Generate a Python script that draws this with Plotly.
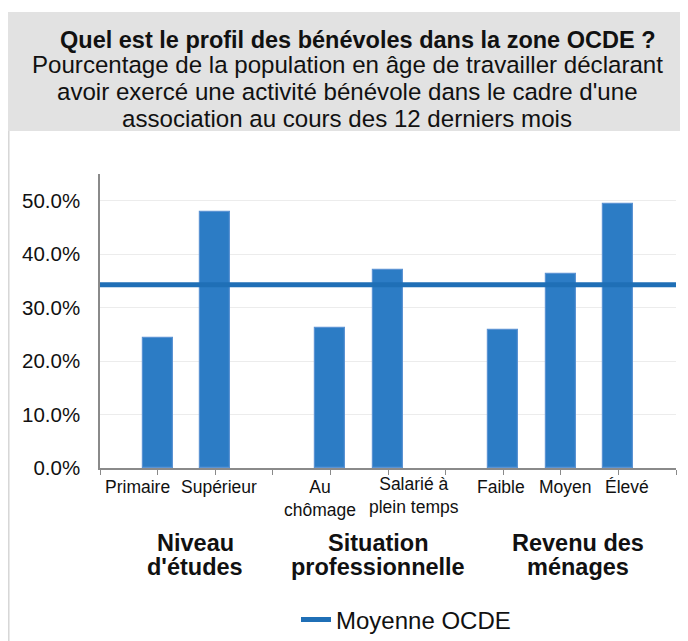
import plotly.graph_objects as go

# data
groups = ["Niveau<br>d'études", "Situation<br>professionnelle", "Revenu des<br>ménages"]
group_items = [
    ["Primaire", "Supérieur"],
    ["Au<br>chômage", "Salarié à<br>plein temps"],
    ["Faible", "Moyen", "Élevé"],
]
group_values = [
    [24.4, 47.9],
    [26.1, 37.0],
    [25.8, 36.2, 49.4],
]
oecd_average = 34.3

title = "Quel est le profil des bénévoles dans la zone OCDE ?"
subtitle_lines = [
    "Pourcentage de la population en âge de travailler déclarant",
    "avoir exercé une activité bénévole dans le cadre d'une",
    "association au cours des 12 derniers mois",
]

# the page body adds an 8px margin, so the figure is drawn 8px in from the window corner
OFF = 8
W, H = 688 - OFF, 641 - OFF
# plot area in window pixels: x 100..676, y 174..468
L, R, T, B = 100 - OFF, 688 - 676, 174 - OFF, 641 - 468
FONT = "Liberation Sans, Arial, Helvetica, sans-serif"

# category slots: one empty slot before each group
x_pos, labels, values, group_centres = [], [], [], []
slot = 0
for items, vals in zip(group_items, group_values):
    slot += 1
    start = slot
    for lab, v in zip(items, vals):
        x_pos.append(slot)
        labels.append(lab)
        values.append(v)
        slot += 1
    group_centres.append((start + slot - 1) / 2)
n_slots = slot + 1


def px_x(p):
    # window pixel -> paper x
    return (p - OFF - L) / (W - L - R)


def px_y(p):
    # window pixel -> paper y
    return (H - B - (p - OFF)) / (H - T - B)


fig = go.Figure()
fig.add_trace(go.Bar(
    x=x_pos, y=values, width=0.52, showlegend=False,
    marker=dict(color="#2c7cc5", line=dict(color="#5b93d3", width=1.2)),
    hoverinfo="skip",
))
fig.add_trace(go.Scatter(
    x=[0, n_slots - 1], y=[oecd_average] * 2, mode="lines",
    name="Moyenne OCDE", line=dict(color="#1f6fb6", width=5),
))

fig.update_layout(
    width=W, height=H,
    margin=dict(l=L, r=R, t=T, b=B, autoexpand=False),
    paper_bgcolor="white", plot_bgcolor="white",
    font=dict(family=FONT, color="#111", size=17),
    bargap=0,
    showlegend=True,
    legend=dict(
        orientation="h", x=px_x(296), y=px_y(620), xanchor="left",
        yanchor="middle", font=dict(size=24), itemwidth=30,
    ),
    xaxis=dict(
        range=[0, n_slots - 1],
        tickmode="array",
        tickvals=list(range(n_slots)),
        showticklabels=False,
        ticks="outside", ticklen=5, tickcolor="#8a8a8a", tickwidth=1.2,
        showline=True, linecolor="#8a8a8a", linewidth=1.5,
        showgrid=False, zeroline=False,
    ),
    yaxis=dict(
        range=[0, 55], dtick=10, tickformat=".1f", ticksuffix="%",
        showline=True, linecolor="#8a8a8a", linewidth=1.5,
        gridcolor="#ececec", gridwidth=1, zeroline=False,
        tickfont=dict(size=20.5), ticklabelstandoff=14,
    ),
    shapes=[
        dict(type="rect", xref="paper", yref="paper", layer="below",
             x0=px_x(OFF - 1), x1=px_x(688), y0=px_y(131), y1=px_y(12),
             fillcolor="#e2e2e2", line=dict(width=0)),
        dict(type="line", xref="paper", yref="paper",
             x0=px_x(OFF + 0.8), x1=px_x(OFF + 0.8), y0=px_y(131), y1=px_y(641),
             line=dict(color="#d6d6d6", width=1.5)),
    ],
)

# category labels, nudged sideways as in the original so neighbours don't collide
label_shift = {"Primaire": -20, "Supérieur": 4, "Au<br>chômage": -10,
               "Salarié à<br>plein temps": 26, "Faible": -2, "Moyen": 5, "Élevé": 9}
label_top = {"Salarié à<br>plein temps": 472}
for x, lab in zip(x_pos, labels):
    fig.add_annotation(text=lab, x=x, xref="x", xshift=label_shift.get(lab, 0),
                       yref="paper", y=px_y(label_top.get(lab, 475)), yanchor="top",
                       showarrow=False, font=dict(size=17.5), align="center")

fig.add_annotation(text=f"<b>{title}</b>", xref="paper", yref="paper",
                   x=px_x(358), y=px_y(25), showarrow=False,
                   font=dict(size=23.5, color="#111"))
for i, line in enumerate(subtitle_lines):
    fig.add_annotation(text=line, xref="paper", yref="paper",
                       x=px_x(347), y=px_y(49 + 27 * i), showarrow=False,
                       font=dict(size=24.1, color="#111"))

group_shift = [9, 19, 17]
for g, c, s in zip(groups, group_centres, group_shift):
    for i, line in enumerate(g.split("<br>")):
        fig.add_annotation(text=f"<b>{line}</b>", x=c, xref="x", xshift=s,
                           yref="paper", y=px_y(542.5 + 24 * i), yanchor="middle",
                           showarrow=False, font=dict(size=23.5, color="#111"))

fig.write_html("out.html")
